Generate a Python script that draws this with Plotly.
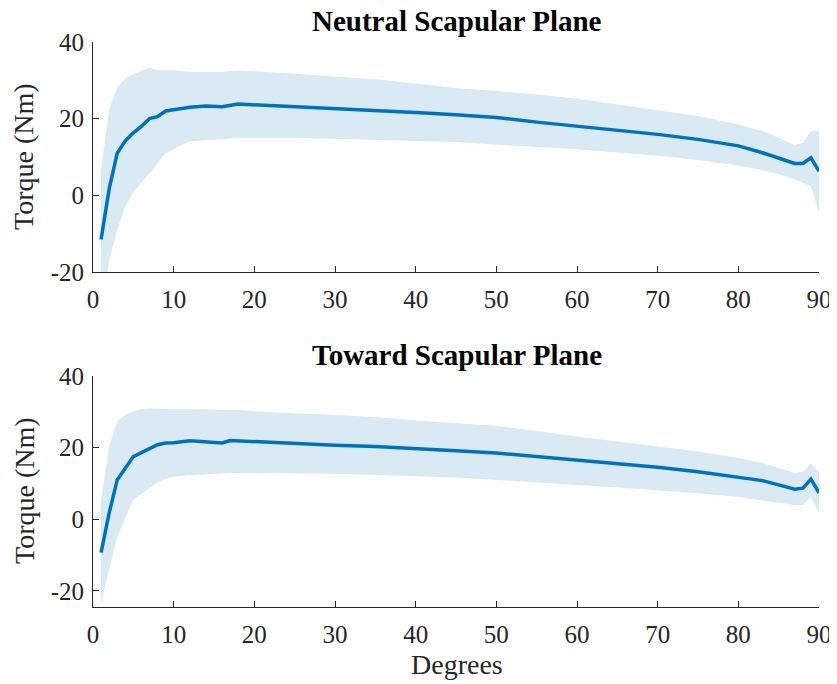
import plotly.graph_objects as go

# ---- data ----
neutral_deg = [1, 2, 3, 4, 5, 6, 7, 8, 9, 10, 12, 14, 16, 18, 20, 25, 30, 35, 40, 45,
               50, 55, 60, 65, 70, 75, 80, 83, 85, 87, 88, 89, 90]
neutral_mean = [-11.5, 1.6, 11, 14.2, 16.3, 18, 20, 20.5, 22, 22.4, 23, 23.3, 23.1, 23.8, 23.6,
                23.1, 22.8, 22.2, 21.6, 21, 20.3, 19.1, 18.1, 17, 15.9, 14.6, 12.9, 11.1, 9.8,
                8.3, 8.3, 9.8, 6.3]
neutral_upper = [6.5, 22.4, 28, 30.7, 31.6, 32.4, 33.3, 32.7, 32.7, 32.7, 32.2, 32.2, 32.2, 32.6,
                 32.3, 31.7, 31, 30.3, 29.2, 28, 27.2, 26.3, 25.2, 23.7, 22.3, 20.7, 18.5, 16.8,
                 15, 13.1, 13.7, 16.8, 16.8]
neutral_lower = [-30, -17, -9, -3, 0.8, 3.2, 5.8, 8.3, 11, 12, 14.1, 14.4, 14.6, 15, 15, 15,
                 14.8, 14.5, 14.2, 13.9, 13.3, 12.6, 12, 11.1, 10.3, 9.2, 7.8, 6.6, 5.5, 4.2,
                 3.3, 2.4, -4.5]

toward_deg = [1, 2, 3, 4, 5, 6, 7, 8, 9, 10, 12, 14, 16, 17, 18, 20, 22, 25, 30, 35, 40, 45,
              50, 55, 60, 65, 70, 75, 80, 83, 85, 87, 88, 89, 90]
toward_mean = [-9.3, 1.7, 11, 14.3, 17.5, 18.6, 19.8, 20.8, 21.3, 21.4, 21.9, 21.7, 21.3, 22,
               21.9, 21.6, 21.3, 21.1, 20.7, 20.3, 19.8, 19.1, 18.5, 17.5, 16.6, 15.7, 14.5,
               13.3, 11.7, 10.8, 9.6, 8.4, 8.7, 11.2, 7.4]
toward_upper = [5.4, 20.3, 27.3, 29.2, 30.1, 30.8, 30.9, 30.8, 30.8, 30.8, 30.8, 30.6, 30.4,
                30.5, 30.5, 30.1, 29.9, 29.6, 29.2, 28.5, 27.6, 26.8, 26.1, 24.5, 23.1, 21.7,
                20.3, 18.9, 17.1, 15.7, 14.3, 12.9, 13.3, 15.5, 13.3]
toward_lower = [-23.5, -14, -5, 0.5, 5.5, 7.2, 8.7, 10.3, 11.3, 11.9, 12.3, 12.6, 12.8, 12.9,
                12.9, 13, 12.9, 12.8, 12.7, 12.4, 12.1, 11.7, 11, 10.2, 9.6, 8.9, 8.2, 7.3,
                6.2, 5.4, 4.6, 4, 4, 6.3, 1.7]

x_ticks = [0, 10, 20, 30, 40, 50, 60, 70, 80, 90]
y_ticks = [-20, 0, 20, 40]
y_tick_text = ["-20", "0", "20", "40"]
titles = ["Neutral Scapular Plane", "Toward Scapular Plane"]
y_label = "Torque (Nm)"
x_label = "Degrees"

# ---- styling ----
W, H = 829, 676          # page body has an 8 px margin
OFF = 8                  # screen px -> figure px offset
LINE = "#0072BD"
BAND = "rgb(217,234,245)"
AX = "#262626"
FONT = "Liberation Serif"


def px(sx):
    return (sx - OFF) / W


def py(sy):
    return 1 - (sy - OFF) / H


fig = go.Figure()

panels = [
    (neutral_deg, neutral_mean, neutral_upper, neutral_lower, "x", "y"),
    (toward_deg, toward_mean, toward_upper, toward_lower, "x2", "y2"),
]
for deg, mean, up, lo, xa, ya in panels:
    fig.add_trace(go.Scatter(x=deg + deg[::-1], y=up + lo[::-1], fill="toself",
                             fillcolor=BAND, line=dict(width=0), mode="lines",
                             hoverinfo="skip", showlegend=False, xaxis=xa, yaxis=ya))
    fig.add_trace(go.Scatter(x=deg, y=mean, mode="lines", line=dict(color=LINE, width=3.5),
                             showlegend=False, xaxis=xa, yaxis=ya))

xdom = [px(93), px(819)]
ax_common = dict(showline=True, linecolor=AX, linewidth=1, ticks="inside", ticklen=6,
                 tickcolor=AX, tickfont=dict(family=FONT, size=25, color=AX),
                 showgrid=False, zeroline=False, mirror=False, automargin=False)

fig.update_layout(
    width=W, height=H, margin=dict(l=0, r=0, t=0, b=0, autoexpand=False),
    paper_bgcolor="white", plot_bgcolor="white",
    xaxis=dict(domain=xdom, range=[0, 90], tickvals=x_ticks, anchor="y",
               ticklabelstandoff=5, **ax_common),
    yaxis=dict(domain=[py(272), py(42)], range=[-20, 40], tickvals=y_ticks,
               ticktext=y_tick_text, anchor="x", ticklabelstandoff=3, **ax_common),
    xaxis2=dict(domain=xdom, range=[0, 90], tickvals=x_ticks, anchor="y2",
                ticklabelstandoff=5, **ax_common),
    yaxis2=dict(domain=[py(606.7), py(376)], range=[-24.4, 40], tickvals=y_ticks,
                ticktext=y_tick_text, anchor="x2", ticklabelstandoff=3, **ax_common),
)

ann = []
for t, sy in zip(titles, [21, 355]):
    ann.append(dict(text="<b>%s</b>" % t, x=px(457), y=py(sy), xref="paper", yref="paper",
                    xanchor="center", yanchor="middle", showarrow=False,
                    font=dict(family=FONT, size=29, color="black")))
for sy in [157, 491]:
    ann.append(dict(text=y_label, x=px(24), y=py(sy), xref="paper", yref="paper",
                    xanchor="center", yanchor="middle", textangle=-90, showarrow=False,
                    font=dict(family=FONT, size=28, color=AX)))
ann.append(dict(text=x_label, x=px(457), y=py(664), xref="paper", yref="paper",
                xanchor="center", yanchor="middle", showarrow=False,
                font=dict(family=FONT, size=28, color=AX)))
fig.update_layout(annotations=ann)

fig.write_html("out.html")
